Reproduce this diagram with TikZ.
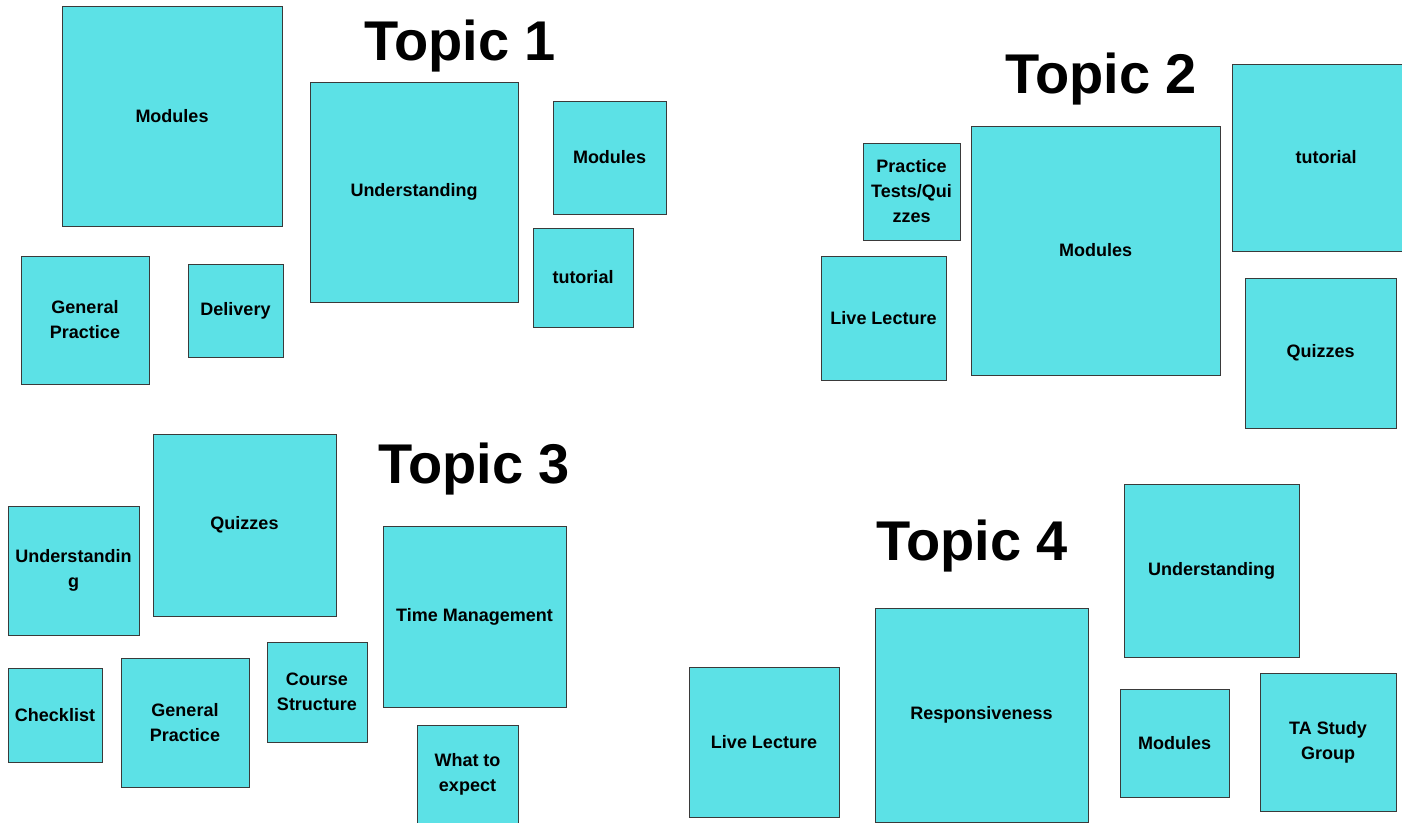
\documentclass[tikz,border=0pt]{standalone}
\usepackage{fontspec}
\setmainfont{Liberation Sans}
\definecolor{cardfill}{HTML}{5CE1E6}
\definecolor{cardline}{HTML}{3A3A3A}
\tikzset{
  card/.style={draw=cardline, fill=cardfill, line width=1pt, inner sep=0pt,
    align=center, font=\fontsize{18}{25}\selectfont\bfseries},
  topictitle/.style={anchor=base, inner sep=0pt, font=\fontsize{56}{60}\selectfont\bfseries}
}
\newcommand{\cardnode}[6]{\node[card, minimum width=#3pt, minimum height=#4pt] (#1) at (#2) {#5};}
\begin{document}
\begin{tikzpicture}[x=1pt,y=-1pt]
\useasboundingbox (0,0) rectangle (1402,822);
\clip (0,0) rectangle (1402,822);
\fill[white] (0,0) rectangle (1402,822);
% Topic 1
\node[topictitle] (title1) at (460,60) {Topic 1};
\node[card, minimum width=220pt, minimum height=220pt] (m1) at (172,116) {Modules};
\node[card, minimum width=208pt, minimum height=220pt] (u1) at (414,192) {Understanding};
\node[card, minimum width=113pt, minimum height=113pt] (m1b) at (609.5,157.5) {Modules};
\node[card, minimum width=100pt, minimum height=99pt] (t1) at (583,277.5) {tutorial};
\node[card, minimum width=128pt, minimum height=128pt] (gp1) at (85,320) {General\\Practice};
\node[card, minimum width=95pt, minimum height=93pt] (d1) at (235.5,310.5) {Delivery};
% Topic 2
\node[topictitle] (title2) at (1101,93) {Topic 2};
\node[card, minimum width=97pt, minimum height=97pt] (pt2) at (911.5,191.5) {Practice\\Tests/Qui\\zzes};
\node[card, minimum width=249pt, minimum height=249pt] (m2) at (1095.5,250.5) {Modules};
\node[card, minimum width=188pt, minimum height=187pt] (t2) at (1326,157.5) {tutorial};
\node[card, minimum width=151pt, minimum height=150pt] (q2) at (1320.5,353) {Quizzes};
\node[card, minimum width=125pt, minimum height=124pt] (ll2) at (883.5,318) {Live Lecture};
% Topic 3
\node[topictitle] (title3) at (474,483) {Topic 3};
\node[card, minimum width=131pt, minimum height=129pt] (u3) at (73.5,570.5) {Understandin\\g};
\node[card, minimum width=183pt, minimum height=182pt] (q3) at (244.5,525) {Quizzes};
\node[card, minimum width=183pt, minimum height=181pt] (tm3) at (474.5,616.5) {Time Management};
\node[card, minimum width=94pt, minimum height=94pt] (cl3) at (55,715) {Checklist};
\node[card, minimum width=128pt, minimum height=129pt] (gp3) at (185,722.5) {General\\Practice};
\node[card, minimum width=100pt, minimum height=100pt] (cs3) at (317,692) {Course\\Structure};
\node[card, minimum width=101pt, minimum height=99pt] (we3) at (467.5,774.5) {What to\\expect};
% Topic 4
\node[topictitle] (title4) at (972,560) {Topic 4};
\node[card, minimum width=175pt, minimum height=173pt] (u4) at (1211.5,570.5) {Understanding};
\node[card, minimum width=213pt, minimum height=214pt] (r4) at (981.5,715) {Responsiveness};
\node[card, minimum width=150pt, minimum height=150pt] (ll4) at (764,742) {Live Lecture};
\node[card, minimum width=109pt, minimum height=108pt] (m4) at (1174.5,743) {Modules};
\node[card, minimum width=136pt, minimum height=138pt] (ta4) at (1328,742) {TA Study\\Group};
\end{tikzpicture}
\end{document}
